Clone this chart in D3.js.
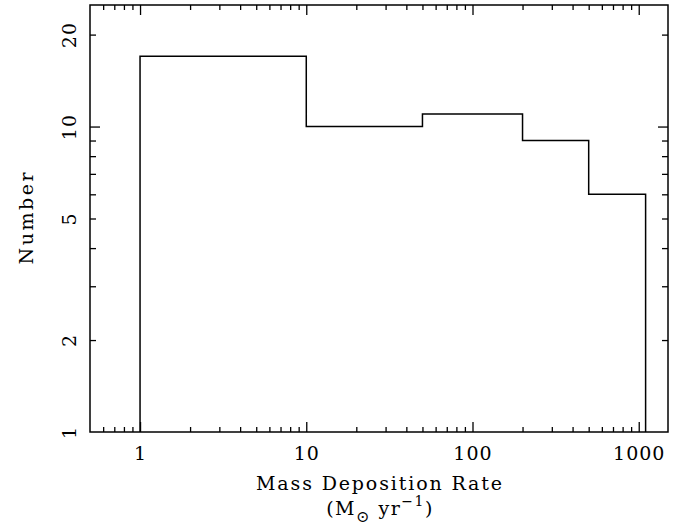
<!DOCTYPE html>
<html>
<head>
<meta charset="utf-8">
<script src="https://cdn.jsdelivr.net/npm/d3@7"></script>
<style>
  html, body { margin: 0; padding: 0; background: #fff; }
  svg { display: block; }
  text { font-family: "DejaVu Serif", "Liberation Serif", serif; fill: #000; }
</style>
</head>
<body>
<svg id="chart" width="679" height="525"></svg>
<script>
// Histogram of mass deposition rates: bin edges and counts per bin
const binEdges = [1, 10, 50, 200, 500, 1100];
const binCounts = [17, 10, 11, 9, 6];

// Axis ticks
const xMajorTicks = [1, 10, 100, 1000];
const xMinorTicks = [0.6, 0.7, 0.8, 0.9, 2, 3, 4, 5, 6, 7, 8, 9,
                     20, 30, 40, 50, 60, 70, 80, 90,
                     200, 300, 400, 500, 600, 700, 800, 900];
const yMajorTicks = [10];
const yMinorTicks = [2, 3, 4, 5, 6, 7, 8, 9, 20];
const yTickLabels = [1, 2, 5, 10, 20];

const W = 679, H = 525;
const plotLeft = 90, plotRight = 668, plotTop = 5, plotBottom = 432;
const fontSize = 19;
const font = "DejaVu Serif";

const svg = d3.select("#chart");
svg.append("rect").attr("width", W).attr("height", H).attr("fill", "#fff");

const x = d3.scaleLog().domain([0.5, 1500]).range([plotLeft, plotRight]);
const y = d3.scaleLog().domain([1, 25]).range([plotBottom, plotTop]);

function styleAxis(g) {
  g.select(".domain").remove();
  g.selectAll(".tick line").attr("stroke", "#000").attr("stroke-width", 1.3);
}

// Bottom axis: major ticks with labels, then minor ticks
svg.append("g").attr("transform", `translate(0,${plotBottom})`)
  .call(d3.axisBottom(x).tickValues(xMajorTicks).tickSize(-10).tickPadding(15)
        .tickFormat(d3.format("d")))
  .call(styleAxis)
  .call(g => g.selectAll("text")
    .attr("font-size", fontSize)
    .attr("letter-spacing", 1)
    .style("font-family", font));
svg.append("g").attr("transform", `translate(0,${plotBottom})`)
  .call(d3.axisBottom(x).tickValues(xMinorTicks).tickSize(-5).tickFormat(""))
  .call(styleAxis);

// Top axis: ticks only
svg.append("g").attr("transform", `translate(0,${plotTop})`)
  .call(d3.axisTop(x).tickValues(xMajorTicks).tickSize(-10).tickFormat(""))
  .call(styleAxis);
svg.append("g").attr("transform", `translate(0,${plotTop})`)
  .call(d3.axisTop(x).tickValues(xMinorTicks).tickSize(-5).tickFormat(""))
  .call(styleAxis);

// Left axis: ticks, with rotated labels
svg.append("g").attr("transform", `translate(${plotLeft},0)`)
  .call(d3.axisLeft(y).tickValues(yMajorTicks).tickSize(-10).tickFormat(""))
  .call(styleAxis);
svg.append("g").attr("transform", `translate(${plotLeft},0)`)
  .call(d3.axisLeft(y).tickValues(yMinorTicks).tickSize(-6).tickFormat(""))
  .call(styleAxis);
svg.append("g").attr("transform", `translate(${plotLeft},0)`)
  .call(d3.axisLeft(y).tickValues(yTickLabels).tickSize(0).tickFormat(d3.format("d")))
  .call(styleAxis)
  .call(g => g.selectAll("text")
    .attr("transform", "rotate(-90)")
    .attr("x", 0).attr("y", -14).attr("dy", 0)
    .attr("text-anchor", "middle")
    .attr("font-size", fontSize)
    .attr("letter-spacing", 1)
    .style("font-family", font));

// Right axis: ticks only
svg.append("g").attr("transform", `translate(${plotRight},0)`)
  .call(d3.axisRight(y).tickValues(yMajorTicks).tickSize(-10).tickFormat(""))
  .call(styleAxis);
svg.append("g").attr("transform", `translate(${plotRight},0)`)
  .call(d3.axisRight(y).tickValues(yMinorTicks).tickSize(-6).tickFormat(""))
  .call(styleAxis);

// Plot frame
svg.append("rect")
  .attr("x", plotLeft).attr("y", plotTop)
  .attr("width", plotRight - plotLeft).attr("height", plotBottom - plotTop)
  .attr("fill", "none").attr("stroke", "#000").attr("stroke-width", 1.5);

// Histogram outline as a step path
const pts = [[binEdges[0], 1]];
binCounts.forEach((c, i) => {
  pts.push([binEdges[i], c]);
  pts.push([binEdges[i + 1], c]);
});
pts.push([binEdges[binEdges.length - 1], 1]);

svg.append("path")
  .datum(pts)
  .attr("fill", "none")
  .attr("stroke", "#000")
  .attr("stroke-width", 1.5)
  .attr("d", d3.line().x(d => x(d[0])).y(d => y(d[1])));

// Axis titles
const cx = (plotLeft + plotRight) / 2;
svg.append("text")
  .attr("x", cx).attr("y", 490)
  .attr("text-anchor", "middle")
  .attr("font-size", fontSize)
  .attr("textLength", 246)
  .attr("lengthAdjust", "spacing")
  .text("Mass Deposition Rate");

const unit = svg.append("text")
  .attr("x", cx + 1).attr("y", 515)
  .attr("text-anchor", "middle")
  .attr("font-size", fontSize)
  .attr("letter-spacing", 1.5);
unit.append("tspan").text("(M");
unit.append("tspan").attr("font-size", 16).attr("dy", 7).text("\u2299");
unit.append("tspan").attr("dy", -7).text(" yr");
unit.append("tspan").attr("font-size", 14).attr("dy", -9).text("\u22121");
unit.append("tspan").attr("dy", 9).text(")");

svg.append("text")
  .attr("transform", `translate(33,${(plotTop + plotBottom) / 2}) rotate(-90)`)
  .attr("text-anchor", "middle")
  .attr("font-size", fontSize)
  .attr("textLength", 92)
  .attr("lengthAdjust", "spacing")
  .text("Number");
</script>
</body>
</html>
